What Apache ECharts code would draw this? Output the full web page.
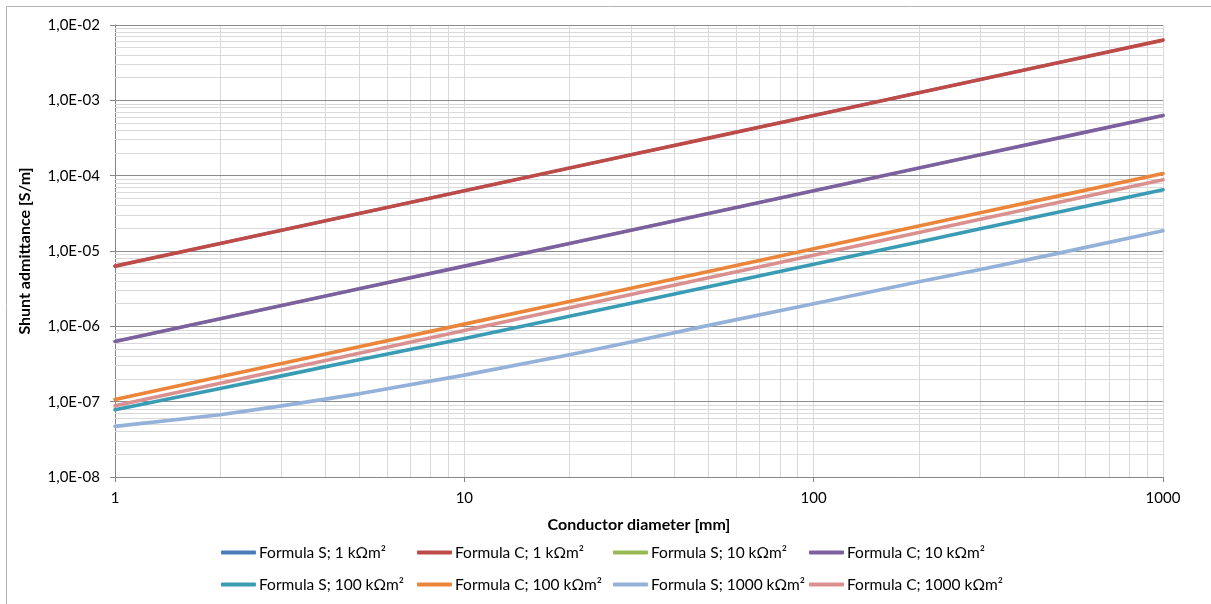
<!DOCTYPE html>
<html>
<head>
<meta charset="utf-8">
<script src="https://cdn.jsdelivr.net/npm/echarts@6/dist/echarts.min.js"></script>
<style>
html,body{margin:0;padding:0;background:#fff;}
#c{width:1211px;height:604px;}
</style>
</head>
<body>
<div id="c"></div>
<script>
// ---- data ----
const diameters = [1, 2, 3, 5, 10, 20, 30, 50, 100, 200, 300, 500, 1000];
const formulaS_1 = [6.3e-6, 1.26e-5, 1.89e-5, 3.15e-5, 6.3e-5, 1.26e-4, 1.89e-4, 3.15e-4, 6.3e-4, 1.26e-3, 1.89e-3, 3.15e-3, 6.3e-3];
const formulaC_1 = [6.3e-6, 1.26e-5, 1.89e-5, 3.15e-5, 6.3e-5, 1.26e-4, 1.89e-4, 3.15e-4, 6.3e-4, 1.26e-3, 1.89e-3, 3.15e-3, 6.3e-3];
const formulaS_10 = [6.3e-7, 1.26e-6, 1.89e-6, 3.15e-6, 6.3e-6, 1.26e-5, 1.89e-5, 3.15e-5, 6.3e-5, 1.26e-4, 1.89e-4, 3.15e-4, 6.3e-4];
const formulaC_10 = [6.3e-7, 1.26e-6, 1.89e-6, 3.15e-6, 6.3e-6, 1.26e-5, 1.89e-5, 3.15e-5, 6.3e-5, 1.26e-4, 1.89e-4, 3.15e-4, 6.3e-4];
const formulaS_100 = [7.8e-8, 1.5e-7, 2.2e-7, 3.6e-7, 6.9e-7, 1.36e-6, 2.02e-6, 3.35e-6, 6.65e-6, 1.32e-5, 1.97e-5, 3.28e-5, 6.5e-5];
const formulaC_100 = [1.07e-7, 2.14e-7, 3.21e-7, 5.35e-7, 1.07e-6, 2.14e-6, 3.21e-6, 5.35e-6, 1.07e-5, 2.14e-5, 3.21e-5, 5.35e-5, 1.07e-4];
const formulaS_1000 = [4.7e-8, 6.7e-8, 8.8e-8, 1.27e-7, 2.25e-7, 4.2e-7, 6.2e-7, 1.03e-6, 2.0e-6, 3.9e-6, 5.7e-6, 9.3e-6, 1.86e-5];
const formulaC_1000 = [8.8e-8, 1.76e-7, 2.64e-7, 4.4e-7, 8.8e-7, 1.76e-6, 2.64e-6, 4.4e-6, 8.8e-6, 1.76e-5, 2.64e-5, 4.4e-5, 8.8e-5];
const seriesNames = ['Formula S; 1 kΩm²', 'Formula C; 1 kΩm²', 'Formula S; 10 kΩm²', 'Formula C; 10 kΩm²',
  'Formula S; 100 kΩm²', 'Formula C; 100 kΩm²', 'Formula S; 1000 kΩm²', 'Formula C; 1000 kΩm²'];
const yTickLabels = ['1,0E-08', '1,0E-07', '1,0E-06', '1,0E-05', '1,0E-04', '1,0E-03', '1,0E-02'];
const xTickLabels = ['1', '10', '100', '1000'];
const xAxisTitle = 'Conductor diameter [mm]';
const yAxisTitle = 'Shunt admittance [S/m]';

// ---- styles ----
const FONT = 'Lato, Carlito, Calibri, "Liberation Sans", sans-serif';
const colors = ['#4A7EBB', '#BE4B48', '#98B954', '#7D60A0', '#3A9CB4', '#EB853A', '#93B1D9', '#D9908E'];
const widths = [3, 3.6, 3, 3.6, 3.6, 3.6, 3.6, 3.6];
const seriesValues = [formulaS_1, formulaC_1, formulaS_10, formulaC_10, formulaS_100, formulaC_100, formulaS_1000, formulaC_1000];

// minor grid positions (2..9 within each decade)
const minorMult = [2, 3, 4, 5, 6, 7, 8, 9];
const xMinor = [];
[1, 10, 100].forEach(d => minorMult.forEach(m => xMinor.push(m * d)));
xMinor.push(10, 100, 1000);
const yMinor = [];
[1e-8, 1e-7, 1e-6, 1e-5, 1e-4, 1e-3].forEach(d => minorMult.forEach(m => yMinor.push(m * d)));
const yMajor = [1e-7, 1e-6, 1e-5, 1e-4, 1e-3, 1e-2];

function expOf(v) { return Math.round(Math.log10(v)); }

const series = seriesValues.map((vals, i) => ({
  name: seriesNames[i],
  type: 'line',
  data: diameters.map((d, j) => [d, vals[j]]),
  showSymbol: false,
  symbol: 'none',
  lineStyle: { width: widths[i], color: colors[i], cap: 'round', join: 'round' },
  itemStyle: { color: colors[i] },
  z: 10 + i,
  silent: true,
  animation: false
}));

function hLine(v) { return [{ coord: [1, v] }, { coord: [1000, v] }]; }
function vLine(v) { return [{ coord: [v, 1e-8] }, { coord: [v, 1e-2] }]; }

series.unshift({
  name: '__gridMinor',
  type: 'line',
  data: [[1, 1e-8]],
  showSymbol: false,
  symbol: 'none',
  lineStyle: { width: 0 },
  z: 1,
  silent: true,
  animation: false,
  markLine: {
    z: 1,
    silent: true,
    symbol: 'none',
    label: { show: false },
    animation: false,
    lineStyle: { color: '#d9d9d9', width: 1, type: 'solid' },
    emphasis: { disabled: true },
    data: xMinor.map(vLine).concat(yMinor.map(hLine))
  }
}, {
  name: '__gridMajor',
  type: 'line',
  data: [[1, 1e-8]],
  showSymbol: false,
  symbol: 'none',
  lineStyle: { width: 0 },
  z: 2,
  silent: true,
  animation: false,
  markLine: {
    z: 2,
    silent: true,
    symbol: 'none',
    label: { show: false },
    animation: false,
    lineStyle: { color: '#8c8c8c', width: 1, type: 'solid' },
    emphasis: { disabled: true },
    data: yMajor.map(hLine)
  }
});

const legendLeft = [221, 417, 613, 809, 221, 417, 613, 809];
const legendTop = [544, 544, 544, 544, 576, 576, 576, 576];
const legends = seriesNames.map((n, i) => ({
  data: [{ name: n, itemStyle: { color: colors[i] }, lineStyle: { color: colors[i] } }],
  left: legendLeft[i],
  top: legendTop[i],
  padding: 0,
  itemWidth: 35,
  itemHeight: 4,
  itemGap: 0,
  icon: 'roundRect',
  selectedMode: false,
  textStyle: { fontFamily: FONT, fontSize: 15.5, color: '#000', lineHeight: 17, padding: [0, 0, 0, -2] }
}));

const chart = echarts.init(document.getElementById('c'), null, { renderer: 'canvas' });
chart.setOption({
  animation: false,
  backgroundColor: '#fff',
  color: colors,
  graphic: [{
    type: 'rect',
    shape: { x: 6.5, y: 6.5, width: 1220, height: 620 },
    style: { fill: 'none', stroke: '#b3b3b3', lineWidth: 1 },
    silent: true,
    z: -10
  }],
  grid: { left: 115, right: 48, top: 25, bottom: 127, containLabel: false },
  legend: legends,
  xAxis: {
    type: 'log',
    logBase: 10,
    min: 1,
    max: 1000,
    splitNumber: 3,
    name: xAxisTitle,
    nameLocation: 'middle',
    nameGap: 40,
    nameTextStyle: { fontFamily: FONT, fontSize: 16, fontWeight: 'bold', color: '#000' },
    axisLine: { show: true, onZero: false, lineStyle: { color: '#868686', width: 1 } },
    axisTick: { show: true, length: 5, inside: false, lineStyle: { color: '#868686' } },
    axisLabel: {
      fontFamily: FONT, fontSize: 15, color: '#000', margin: 14,
      formatter: v => xTickLabels[expOf(v)] ?? ''
    },
    splitLine: { show: false },
    minorTick: { show: false },
    minorSplitLine: { show: false }
  },
  yAxis: {
    type: 'log',
    logBase: 10,
    min: 1e-8,
    max: 1e-2,
    splitNumber: 6,
    name: yAxisTitle,
    nameLocation: 'middle',
    nameGap: 82,
    nameRotate: 90,
    nameTextStyle: { fontFamily: FONT, fontSize: 16, fontWeight: 'bold', color: '#000' },
    axisLine: { show: true, onZero: false, lineStyle: { color: '#868686', width: 1 } },
    axisTick: { show: true, length: 5, inside: false, lineStyle: { color: '#868686' } },
    axisLabel: {
      fontFamily: FONT, fontSize: 15, color: '#000', margin: 15,
      formatter: v => yTickLabels[expOf(v) + 8] ?? ''
    },
    splitLine: { show: false },
    minorTick: { show: false },
    minorSplitLine: { show: false }
  },
  series: series
});
</script>
</body>
</html>
